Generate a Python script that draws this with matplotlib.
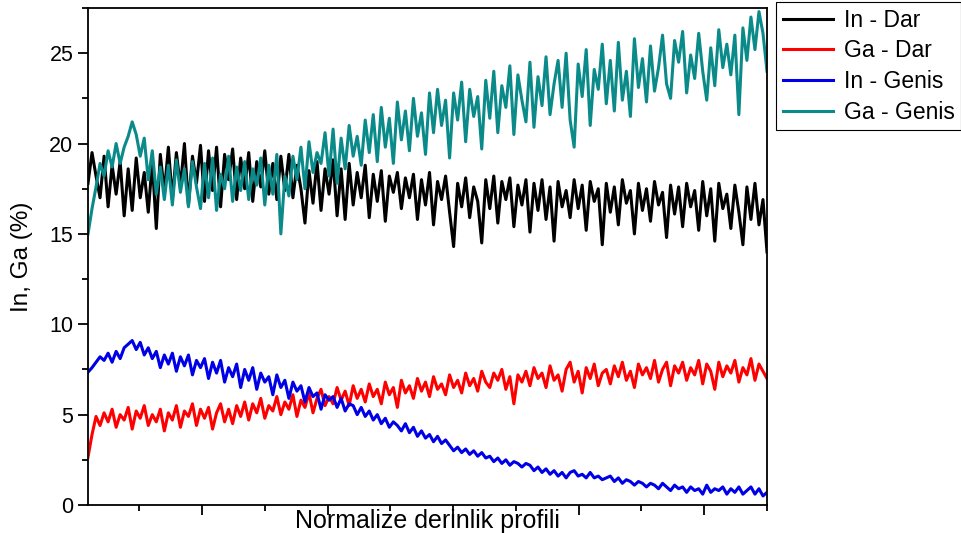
import numpy as np
import matplotlib
matplotlib.use('Agg')
import matplotlib.pyplot as plt
from matplotlib.ticker import MultipleLocator, NullFormatter

plt.rcParams['font.family'] = ['Liberation Sans', 'DejaVu Sans']

# values (170 samples across the profile)
ga_genis = [
    15.0, 16.4, 17.6, 18.9, 18.2, 19.6, 18.7, 20.0, 18.9, 19.8,
    20.4, 21.2, 20.5, 19.3, 20.3, 18.0, 19.6, 17.2, 18.7, 16.9,
    18.8, 16.6, 19.1, 17.3, 18.6, 16.5, 19.0, 17.6, 16.4, 18.9,
    17.0, 19.2, 16.3, 18.3, 17.5, 19.3, 16.8, 18.7, 17.4, 19.0,
    16.9, 18.6, 17.7, 19.2, 16.6, 18.8, 17.2, 19.4, 15.0, 18.2,
    17.1, 19.3, 18.0, 19.8, 17.5, 20.1, 18.4, 19.5, 18.9, 20.6,
    18.2, 20.8, 17.8, 20.3, 18.6, 21.0, 19.3, 20.4, 18.8, 21.3,
    19.5, 21.6, 19.0, 22.0, 19.8, 21.4, 18.9, 22.3, 20.2, 21.8,
    19.6, 22.5, 20.4, 21.7, 19.4, 22.8, 20.6, 23.0, 21.0, 22.4,
    19.2, 22.8, 21.3, 23.4, 20.1, 23.0, 21.5, 22.6, 19.7, 23.5,
    21.4, 24.0, 20.6, 23.2, 22.0, 24.3, 20.5, 23.8, 22.4, 21.2,
    24.5, 20.9, 23.7, 22.1, 24.8, 21.6, 23.3, 24.6, 22.0, 25.0,
    21.3, 19.8, 24.4, 22.6, 25.2, 21.0, 24.1, 23.0, 25.5, 22.2,
    24.6, 21.8, 25.6, 22.4, 24.0, 21.5, 25.8, 23.1, 24.7, 22.3,
    25.4, 22.9, 24.2, 26.0, 23.3, 22.5, 25.7, 24.5, 26.2, 22.8,
    24.9, 23.6, 26.1, 24.0, 22.4, 25.3, 23.2, 26.3, 24.2, 25.5,
    23.8, 26.0, 21.6, 26.4, 24.6, 27.0, 25.2, 27.3, 26.1, 24.0,
]

in_dar = [
    17.8, 19.5, 18.2, 17.0, 19.3, 16.5, 18.8, 17.2, 19.0, 16.0,
    18.6, 16.3, 19.2, 17.0, 18.4, 16.2, 19.0, 15.3, 19.4, 17.3,
    19.8, 16.9, 19.5, 17.6, 20.0, 16.6, 19.3, 17.8, 19.9, 16.8,
    19.6, 17.4, 19.8, 16.5, 19.4, 18.0, 19.7, 16.9, 19.2, 17.5,
    19.5, 16.8, 19.0, 17.6, 19.6, 17.2, 18.9, 16.9, 19.3, 17.4,
    19.4, 17.0, 18.8, 17.5, 15.6, 18.5, 16.7, 19.0, 16.3, 18.6,
    17.2, 19.1, 16.0, 18.6, 15.8, 18.9, 16.6, 18.4, 17.0, 18.8,
    15.9, 18.3, 16.8, 18.5, 15.7, 18.2, 17.3, 18.4, 16.4, 18.1,
    17.0, 18.3, 15.8, 18.0, 16.6, 18.4, 15.5, 17.9, 16.9, 18.2,
    16.2, 14.3, 17.8, 16.5, 18.1, 15.9, 17.6, 16.8, 14.5, 18.0,
    16.4, 18.2, 15.6, 17.9, 16.9, 18.1, 15.4, 17.7, 16.6, 18.0,
    15.1, 17.8, 16.3, 18.0, 15.8, 17.6, 14.6, 17.9, 16.5, 17.4,
    15.9, 18.0, 16.4, 17.7, 15.2, 17.9, 16.8, 17.5, 14.4, 17.8,
    16.2, 17.6, 15.5, 18.0, 16.7, 17.4, 15.0, 17.8, 16.3, 17.5,
    15.7, 17.9, 16.6, 17.3, 14.8, 17.7, 16.1, 17.6, 15.4, 17.8,
    16.5, 17.4, 15.2, 17.9, 16.0, 17.5, 14.6, 17.8, 16.4, 17.2,
    15.3, 17.7, 16.2, 14.4, 17.6, 15.8, 17.8, 15.5, 16.9, 14.0,
]

ga_dar = [
    2.65, 3.9, 4.9, 4.4, 5.1, 4.6, 5.3, 4.3, 5.0, 4.7,
    5.4, 4.2, 5.2, 4.8, 5.5, 4.4, 5.0, 4.6, 5.3, 4.1,
    5.1, 4.7, 5.5, 4.3, 5.2, 4.9, 5.6, 4.4, 5.3, 4.8,
    5.4, 4.2, 5.1, 5.6, 4.6, 5.3, 4.5, 5.5, 4.9, 5.7,
    4.7, 5.6, 5.1, 5.9, 4.8, 5.5, 5.2, 6.0, 5.0, 5.7,
    5.3, 6.1, 4.9, 5.8, 5.4, 6.2, 5.1, 5.9, 6.4, 5.5,
    6.0, 5.6, 6.5, 5.8, 6.3, 5.5, 6.6, 5.9, 6.4, 5.7,
    6.7, 6.0, 6.4, 5.6, 6.8, 6.1, 6.5, 5.4, 6.9, 6.2,
    6.6, 5.9, 7.0, 6.3, 6.8, 6.0, 7.1, 6.4, 6.7, 6.1,
    7.2, 6.5, 6.9, 6.2, 7.3, 6.6, 7.0, 6.3, 7.4, 6.8,
    6.5, 7.3, 6.9, 7.5, 6.4, 7.1, 5.6, 7.2, 6.8, 7.4,
    6.6, 7.6, 7.0, 7.3, 6.5, 7.7, 6.9, 7.2, 6.3, 7.5,
    7.9, 6.8, 7.4, 6.2, 7.6, 7.0, 7.8, 6.6, 7.3, 7.5,
    6.7, 7.7, 7.1, 7.9, 6.9, 7.4, 6.5, 7.8, 7.2, 7.6,
    7.0, 8.0, 6.8, 7.5, 7.9, 6.6, 7.7, 7.3, 7.9, 6.9,
    7.6, 7.2, 8.0, 6.7, 7.8, 7.4, 6.4, 7.9, 7.1, 7.7,
    7.3, 8.0, 6.8, 7.6, 7.2, 8.1, 6.9, 7.8, 7.4, 7.0,
]

in_genis = [
    7.35, 7.6, 7.9, 8.2, 8.0, 8.4, 7.9, 8.5, 8.1, 8.7,
    8.9, 9.1, 8.6, 9.0, 8.3, 8.7, 8.1, 8.5, 7.6, 8.3,
    7.8, 8.4, 7.4, 8.2, 7.7, 8.3, 7.2, 8.0, 7.6, 8.1,
    7.0, 7.9, 7.3, 8.0, 6.8, 7.6, 7.1, 7.8, 6.5, 7.5,
    6.9, 7.6, 6.4, 7.3, 6.8, 7.1, 6.1, 7.2, 6.5, 6.9,
    5.9, 6.8, 6.3, 6.6, 5.7, 6.5, 6.0, 6.2, 5.3, 6.1,
    5.8, 6.0, 5.4, 5.9, 5.2, 5.6, 5.5, 5.0, 5.4, 4.9,
    5.2, 4.7, 5.0, 4.5, 4.8, 4.3, 4.6, 4.4, 4.1, 4.5,
    4.0, 4.3, 3.8, 4.1, 3.7, 3.9, 3.5, 3.8, 3.4, 3.6,
    3.3, 3.0, 3.2, 2.9, 3.1, 2.8, 3.0, 2.7, 2.9, 2.6,
    2.7, 2.4, 2.6, 2.3, 2.5, 2.2, 2.4, 2.3, 2.1, 2.3,
    2.2, 1.9, 2.1, 1.8, 2.0, 1.7, 1.9, 1.6, 1.8, 1.5,
    1.8, 1.9, 1.6, 1.7, 1.5, 1.8, 1.5, 1.6, 1.4, 1.5,
    1.6, 1.3, 1.5, 1.2, 1.4, 1.3, 1.1, 1.3, 1.2, 1.0,
    1.2, 1.1, 0.9, 1.2, 1.0, 0.8, 1.1, 0.9, 1.0, 0.7,
    1.0, 0.8, 0.9, 0.6, 1.1, 0.7, 0.9, 0.8, 1.0, 0.6,
    0.9, 0.7, 1.0, 0.6, 0.8, 1.0, 0.6, 0.9, 0.5, 0.7,
]

series = [
    ('In - Dar', in_dar, 'black'),
    ('Ga - Dar', ga_dar, '#ff0000'),
    ('In - Genis', in_genis, '#0000e6'),
    ('Ga - Genis', ga_genis, '#0b8a8a'),
]

x = np.linspace(0.09, 5.5, len(in_dar))

fig = plt.figure(figsize=(9.61, 5.33), dpi=100)
ax = fig.add_axes([88/961, 28/533, 679/961, 497/533])

for label, vals, color in series:
    ax.plot(x, vals, color=color, lw=2.2, label=label)

ax.set_xlim(0.09, 5.5)
ax.set_ylim(0, 27.5)

ax.xaxis.set_major_locator(MultipleLocator(1))
ax.xaxis.set_minor_locator(MultipleLocator(0.5))
ax.xaxis.set_major_formatter(NullFormatter())
ax.yaxis.set_major_locator(MultipleLocator(5))
ax.yaxis.set_minor_locator(MultipleLocator(2.5))

ax.tick_params(which='both', direction='out', width=1.3, top=False, right=False)
ax.tick_params(which='major', length=7.5, labelsize=15.5, pad=3)
ax.tick_params(which='minor', length=4)
for sp in ax.spines.values():
    sp.set_linewidth(1.3)

ax.set_ylabel('In, Ga (%)', fontsize=17.5)
ax.yaxis.set_label_coords(-0.081, 0.5)
ax.set_xlabel('Normalize derinlik profili', fontsize=18)
ax.xaxis.set_label_coords(0.5, -0.008)

leg = ax.legend(loc='upper left', bbox_to_anchor=(776/961, 1 - 2/533),
                bbox_transform=fig.transFigure, borderaxespad=0,
                borderpad=0.3, handlelength=2.2, handletextpad=0.45,
                labelspacing=0.33, fontsize=16.5, fancybox=False,
                edgecolor='black', framealpha=1)
leg.get_frame().set_linewidth(0.8)

fig.savefig('out.png', dpi=100)
